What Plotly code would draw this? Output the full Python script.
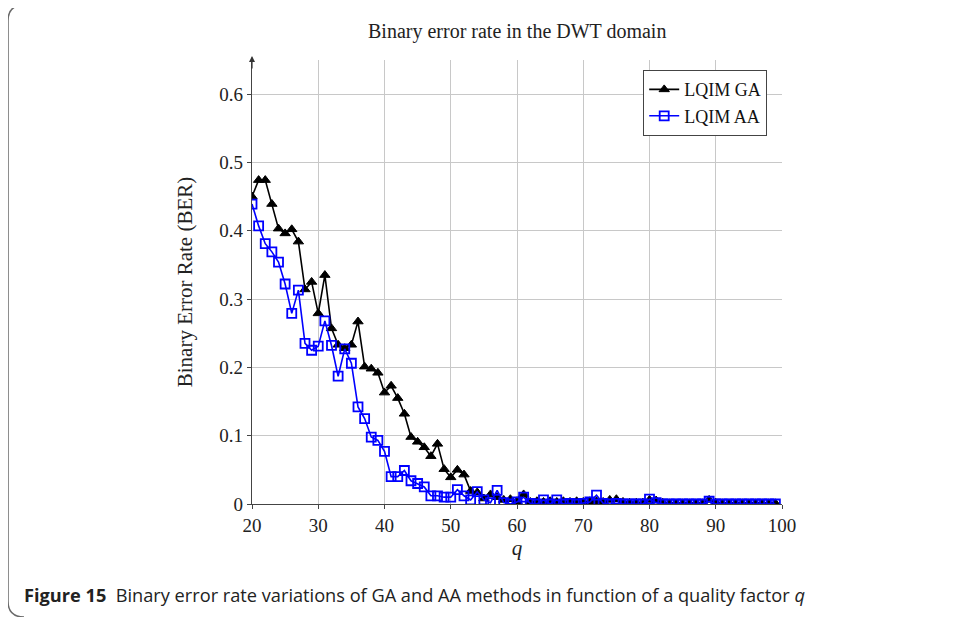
import plotly.graph_objects as go

q = list(range(20, 100))

ber_ga = [0.450, 0.474, 0.474, 0.439, 0.403, 0.396, 0.402, 0.384, 0.314, 0.325,
          0.279, 0.335, 0.257, 0.233, 0.228, 0.233, 0.267, 0.201, 0.198, 0.192,
          0.163, 0.173, 0.155, 0.132, 0.098, 0.091, 0.083, 0.070, 0.088, 0.051,
          0.039, 0.050, 0.043, 0.019, 0.017, 0.008, 0.014, 0.010, 0.006, 0.007,
          0.004, 0.014, 0.003, 0.004, 0.003, 0.004, 0.003, 0.004, 0.003, 0.004,
          0.003, 0.004, 0.004, 0.003, 0.006, 0.007, 0.003, 0.002, 0.002, 0.002,
          0.006, 0.005, 0.002, 0.001, 0.001, 0.001, 0.001, 0.001, 0.001, 0.006,
          0.002, 0.001, 0.001, 0.001, 0.001, 0.001, 0.001, 0.001, 0.001, 0.001]

ber_aa = [0.439, 0.407, 0.381, 0.369, 0.354, 0.322, 0.279, 0.313, 0.235, 0.225,
          0.231, 0.268, 0.232, 0.187, 0.227, 0.206, 0.142, 0.125, 0.098, 0.093,
          0.077, 0.040, 0.040, 0.049, 0.034, 0.030, 0.025, 0.012, 0.012, 0.010,
          0.010, 0.021, 0.012, 0.006, 0.018, 0.006, 0.002, 0.020, 0.002, 0.000,
          0.003, 0.010, 0.001, 0.000, 0.006, 0.000, 0.006, 0.000, 0.001, 0.000,
          0.001, 0.003, 0.013, 0.001, 0.000, 0.001, 0.000, 0.000, 0.000, 0.000,
          0.007, 0.002, 0.000, 0.000, 0.000, 0.000, 0.000, 0.000, 0.000, 0.004,
          0.000, 0.000, 0.000, 0.000, 0.000, 0.000, 0.000, 0.000, 0.000, 0.000]

x_ticks = [20, 30, 40, 50, 60, 70, 80, 90, 100]
y_ticks = [0, 0.1, 0.2, 0.3, 0.4, 0.5, 0.6]
y_tick_text = ["0", "0.1", "0.2", "0.3", "0.4", "0.5", "0.6"]

SERIF = "Liberation Serif"

OFF = 8  # browser body margin
W, H = 957 - OFF, 617 - OFF
# plot area in screen pixels (reference): x 252..782, y 60..504
L, R, T, B = 252 - OFF, 782 - OFF, 60 - OFF, 504 - OFF

def px(x):
    return (x - OFF - L) / (R - L)

def py(y):
    return (B - (y - OFF)) / (B - T)

fig = go.Figure()
fig.add_trace(go.Scatter(
    x=q, y=ber_ga, mode="lines+markers", name="LQIM GA",
    line=dict(color="black", width=1.6),
    marker=dict(symbol="triangle-up", size=9, color="black",
                line=dict(color="black", width=1)),
))
fig.add_trace(go.Scatter(
    x=q, y=ber_aa, mode="lines+markers", name="LQIM AA",
    line=dict(color="#0000ff", width=1.6),
    marker=dict(symbol="square-open", size=9, color="#0000ff",
                line=dict(color="#0000ff", width=1.8)),
))

# rounded frame around the figure (left and top edges visible)
r = 16
x0, y0 = px(8), py(5)
x1 = px(1000)
yb = py(617)
rx, ry = r / (R - L), r / (B - T)
path = (f"M {x1},{y0} L {x0+rx},{y0} Q {x0},{y0} {x0},{y0-ry} "
        f"L {x0},{yb+ry} Q {x0},{yb} {x0+rx},{yb}")
fig.add_shape(type="path", path=path, xref="paper", yref="paper",
              line=dict(color="#6a6a6a", width=1.5), layer="below")

# arrow on y axis
fig.add_annotation(x=20, y=py(56), xref="x", yref="paper",
                   ax=0, ay=14, axref="pixel", ayref="pixel",
                   showarrow=True, arrowhead=2, arrowsize=1, arrowwidth=1.2,
                   arrowcolor="#333333", text="")

fig.add_annotation(
    x=px(22), y=py(595), xref="paper", yref="paper",
    xanchor="left", yanchor="middle", showarrow=False,
    text="<b>Figure 15</b>  Binary error rate variations of GA and AA methods in function of a quality factor <i>q</i>",
    font=dict(family="Open Sans", size=18.2, color="#222222"),
)

fig.add_annotation(
    x=px(517), y=py(32), xref="paper", yref="paper",
    xanchor="center", yanchor="middle", showarrow=False,
    text="Binary error rate in the DWT domain",
    font=dict(family=SERIF, size=20, color="#222222"),
)

fig.update_layout(
    width=W, height=H,
    margin=dict(l=L, r=W - R, t=T, b=H - B, pad=0),
    paper_bgcolor="white", plot_bgcolor="white",
    font=dict(family=SERIF, size=19, color="#222222"),
    showlegend=True,
    legend=dict(x=px(767), y=py(70), xanchor="right", yanchor="top",
                bordercolor="#444444", borderwidth=1.2, bgcolor="white",
                font=dict(family=SERIF, size=18, color="#111111"),
                itemwidth=30, tracegroupgap=0),
)
fig.update_xaxes(
    range=[20, 100], tickvals=x_ticks, ticktext=[str(v) for v in x_ticks],
    showgrid=True, gridcolor="#c8c8c8", gridwidth=1,
    showline=True, linecolor="#444444", linewidth=1.3,
    ticks="outside", ticklen=4, tickcolor="#444444",
    zeroline=False, mirror=False,
    title=dict(text="<i>q</i>", font=dict(family=SERIF, size=21), standoff=3),
    tickfont=dict(family=SERIF, size=19, color="#222222"),
)
fig.update_yaxes(
    range=[0, (B - T) / 683.3], tickvals=y_ticks, ticktext=y_tick_text,
    showgrid=True, gridcolor="#c8c8c8", gridwidth=1,
    showline=True, linecolor="#444444", linewidth=1.3,
    ticks="outside", ticklen=4, tickcolor="#444444",
    zeroline=False, mirror=False,
    title=dict(text="Binary Error Rate (BER)", font=dict(family=SERIF, size=21), standoff=20),
    tickfont=dict(family=SERIF, size=19, color="#222222"),
)

fig.write_html("out.html")
